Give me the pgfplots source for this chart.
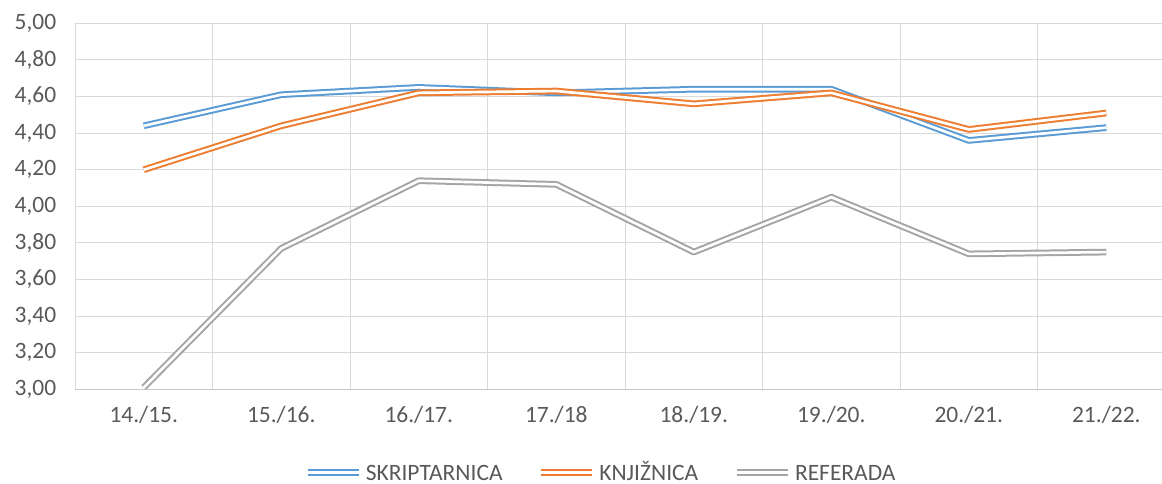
\documentclass[border=0pt]{standalone}
\usepackage{pgfplots}
\pgfplotsset{compat=1.18}
\usepackage{fontspec}
\setmainfont{Carlito}
\definecolor{sblue}{RGB}{91,155,213}
\definecolor{sorange}{RGB}{237,125,49}
\definecolor{sgray}{RGB}{165,165,165}
\definecolor{txt}{RGB}{89,89,89}
\definecolor{grd}{RGB}{217,217,217}
\definecolor{axc}{RGB}{200,200,200}
\begin{document}
\begin{tikzpicture}
\begin{axis}[
  scale only axis, width=815.25pt, height=274.5pt,
  at={(0pt,0pt)}, anchor=south west,
  xmin=-0.5, xmax=7.405, ymin=3, ymax=5,
  xtick={0,1,2,3,4,5,6,7},
  xticklabels={14./15.,15./16.,16./17.,17./18,18./19.,19./20.,20./21.,21./22.},
  minor xtick={-0.5,0.5,1.5,2.5,3.5,4.5,5.5,6.5},
  ytick={3,3.2,3.4,3.6,3.8,4,4.2,4.4,4.6,4.8,5},
  major tick length=0pt, minor tick length=0pt,
  xminorgrids=true, xmajorgrids=false, ymajorgrids=true,
  grid style={draw=grd, line width=0.75pt},
  minor grid style={draw=grd, line width=0.75pt},
  axis x line*=bottom, axis y line*=left,
  x axis line style={draw=axc, line width=0.75pt},
  y axis line style={draw=none},
  tick label style={font=\fontsize{17.6}{20}\selectfont, text=txt},
  yticklabel style={xshift=-10.6pt, /pgf/number format/.cd, fixed, fixed zerofill, precision=2, use comma, assume math mode=true},
  xticklabel style={yshift=-8.9pt},
  clip=false,
  legend style={at={(0.4848,-0.228)}, anchor=center, draw=none, fill=none,
    font=\fontsize{17.6}{20}\selectfont, text=txt, inner sep=0pt,
    nodes={inner xsep=3pt, inner ysep=0pt, text height=11.4pt, text depth=0pt},
    /tikz/every even column/.append style={column sep=23.6pt}},
  legend columns=3,
  legend image code/.code={\draw[#1] (0pt,0pt) -- (38pt,0pt);},
  every axis plot/.append style={line width=1.5pt, double=white, double distance=2.0pt, line join=round, no marks},
]
\addplot[draw=sblue] coordinates {(0,4.44) (1,4.61) (2,4.65) (3,4.62) (4,4.64) (5,4.64) (6,4.36) (7,4.43)};
\addlegendentry{SKRIPTARNICA}
\addplot[draw=sorange] coordinates {(0,4.20) (1,4.44) (2,4.62) (3,4.63) (4,4.56) (5,4.62) (6,4.42) (7,4.51)};
\addlegendentry{KNJIŽNICA}
\addplot[draw=sgray] coordinates {(0,3.01) (1,3.77) (2,4.14) (3,4.12) (4,3.75) (5,4.05) (6,3.74) (7,3.75)};
\addlegendentry{REFERADA}
\end{axis}
\pgfresetboundingbox
\path[use as bounding box] (-56.25pt,-71pt) rectangle (815.25pt,292pt);
\end{tikzpicture}
\end{document}
